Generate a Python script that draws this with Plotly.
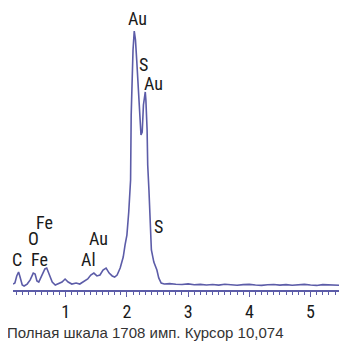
import plotly.graph_objects as go

# Spectrum (energy in keV, counts)
energy = [0.14, 0.17, 0.20, 0.23, 0.25, 0.29, 0.32, 0.37, 0.42, 0.47, 0.50, 0.53, 0.56,
          0.61, 0.66, 0.69, 0.73, 0.78, 0.83, 0.87, 0.94, 0.99, 1.04, 1.10, 1.17, 1.23,
          1.30, 1.36, 1.41, 1.46, 1.51, 1.56, 1.61, 1.66, 1.71, 1.76, 1.80, 1.84, 1.89,
          1.94, 1.97, 2.00, 2.03, 2.06, 2.07, 2.08, 2.10, 2.12, 2.14, 2.16, 2.18, 2.21,
          2.23, 2.25, 2.27, 2.30, 2.31, 2.33, 2.34, 2.36, 2.38, 2.40, 2.44, 2.49, 2.52,
          2.56, 2.61, 2.70, 2.80, 2.90, 3.00, 3.10, 3.20, 3.30, 3.40, 3.50, 3.60, 3.70,
          3.80, 3.90, 4.00, 4.10, 4.20, 4.30, 4.40, 4.50, 4.60, 4.70, 4.80, 4.90, 5.00,
          5.10, 5.20, 5.30, 5.40, 5.50, 5.60]
counts = [39, 46, 92, 118, 92, 33, 26, 39, 66, 111, 105, 59, 52,
          92, 138, 144, 105, 52, 33, 39, 52, 72, 52, 39, 46, 39,
          59, 72, 98, 111, 92, 98, 131, 144, 111, 92, 85, 98, 144,
          216, 295, 360, 511, 720, 1146, 1376, 1572, 1696, 1638, 1507, 1376, 1179,
          1015, 1035, 1212, 1297, 1245, 1048, 819, 655, 426, 262, 183, 131, 79,
          46, 39, 42, 38, 36, 40, 34, 37, 33, 36, 32, 38, 34,
          31, 35, 37, 33, 30, 34, 36, 32, 35, 31, 34, 37, 33,
          30, 35, 32, 34, 31, 33]

# Peak labels
label_text = ["Au", "S", "Au", "S", "Fe", "O", "C", "Fe", "Au", "Al"]
label_x = [2.17, 2.27, 2.43, 2.51, 0.66, 0.47, 0.21, 0.58, 1.54, 1.37]
label_y = [1780, 1480, 1355, 415, 445, 340, 200, 200, 340, 200]

caption = "Полная шкала 1708 имп. Курсор 10,074"

NARROW = "Liberation Sans Narrow, Roboto Condensed, Arial Narrow, Roboto, sans-serif"
REGULAR = "Liberation Sans, Arial, Roboto, sans-serif"
LINE = "#5c5ca8"

fig = go.Figure()
fig.add_trace(go.Scatter(x=energy, y=counts, mode="lines",
                         line=dict(color=LINE, width=1.6), hoverinfo="skip"))

for t, x, y in zip(label_text, label_x, label_y):
    fig.add_annotation(x=x, y=y, text=t, showarrow=False, xref="x", yref="y",
                       font=dict(family=NARROW, size=18, color="#1a1a1a"))

fig.add_annotation(x=-0.024, y=-0.152, xref="paper", yref="paper", text=caption,
                   showarrow=False, xanchor="left", yanchor="middle",
                   font=dict(family=REGULAR, size=15, color="#333333"))

# page body has an 8px default margin; figure sized to fill the rest of the window
fig.update_layout(
    width=339, height=337,
    margin=dict(l=5, r=0, t=0, b=55),
    paper_bgcolor="white", plot_bgcolor="white",
    showlegend=False,
    xaxis=dict(range=[0.139, 5.596], showline=True, linecolor=LINE, linewidth=1.5,
               ticks="outside", ticklen=5, tickwidth=1, tickcolor=LINE,
               tick0=0, dtick=1, showgrid=False, zeroline=False,
               ticklabelstandoff=0,
               tickfont=dict(family=NARROW, size=18, color="#1a1a1a"),
               minor=dict(ticks="outside", ticklen=3, tickwidth=1, tickcolor=LINE,
                          dtick=0.1, tick0=0, showgrid=False)),
    yaxis=dict(range=[0, 1847], visible=False),
)

fig.write_html("out.html")
